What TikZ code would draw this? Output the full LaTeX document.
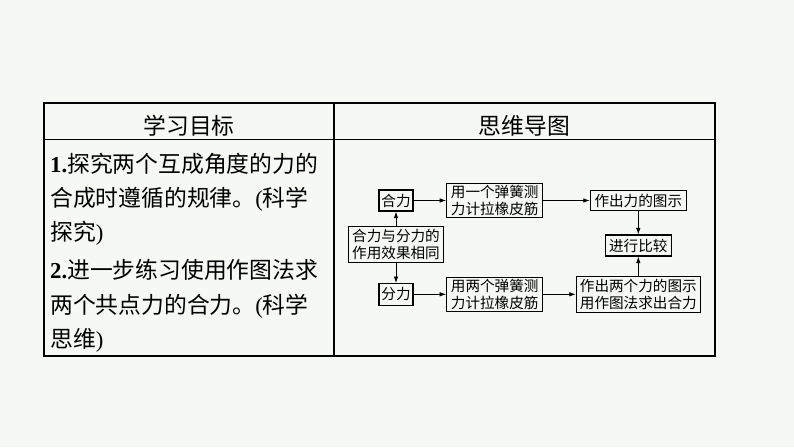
\documentclass[tikz,border=0pt]{standalone}
\usepackage{fontspec}
\setmainfont{Liberation Serif}
\newfontfamily\cjk{Noto Sans CJK SC}
\usetikzlibrary{arrows.meta}
\definecolor{bgc}{RGB}{245,248,243}
\begin{document}
\begin{tikzpicture}[x=1pt,y=-1pt,
  box/.style={draw=black, line width=1.1pt, inner sep=0pt, align=center,
    font=\cjk\fontsize{14.6}{16.8}\selectfont},
  conn/.style={line width=0.8pt, -{Latex[length=6.5pt,width=4.5pt]}},
  cell/.style={anchor=west, inner sep=0pt, font=\fontsize{22.8}{34}\selectfont},
  head/.style={inner sep=0pt, font=\cjk\fontsize{22.8}{34}\selectfont},
  rule/.style={line width=1.2pt}]
\fill[bgc] (0,0) rectangle (794,447);
\useasboundingbox (0,0) rectangle (794,447);
% table
\draw[rule] (44,103) rectangle (715,356);
\draw[line width=1pt] (44,139) -- (715,139);
\draw[rule] (334,103) -- (334,356);
% headers
\node[head] (h1) at (189,126) {学习目标};
\node[head] (h2) at (524.5,126) {思维导图};
% left text
\node[cell] (l1) at (50,163.5) {{\bfseries 1.}{\cjk 探究两个互成角度的力的}};
\node[cell] (l2) at (50,199) {{\cjk 合成时遵循的规律。}({\cjk 科学}};
\node[cell] (l3) at (50,233.5) {{\cjk 探究})};
\node[cell] (l4) at (50,270) {{\bfseries 2.}{\cjk 进一步练习使用作图法求}};
\node[cell] (l5) at (50,306) {{\cjk 两个共点力的合力。}({\cjk 科学}};
\node[cell] (l6) at (50,340.5) {{\cjk 思维})};
% mind map
\node[box, minimum width=34pt, minimum height=21pt] (hl) at (396,200.5) {合力};
\node[box, minimum width=34pt, minimum height=21.5pt] (fl) at (396,294.3) {分力};
\node[box, minimum width=95pt, minimum height=36pt] (same) at (396,244.5) {合力与分力的\\作用效果相同};
\node[box, minimum width=96pt, minimum height=34pt] (one) at (494.7,200.5) {用一个弹簧测\\力计拉橡皮筋};
\node[box, minimum width=96pt, minimum height=34.5pt] (two) at (494.7,294.3) {用两个弹簧测\\力计拉橡皮筋};
\node[box, minimum width=96pt, minimum height=20.5pt] (drawone) at (638.3,200.5) {作出力的图示};
\node[box, minimum width=66pt, minimum height=21pt] (cmp) at (638.3,245.5) {进行比较};
\node[box, minimum width=124pt, minimum height=36.5pt] (drawtwo) at (638.3,294.3) {作出两个力的图示\\用作图法求出合力};
% connectors
\draw[conn] (same) -- (hl);
\draw[conn] (same) -- (fl);
\draw[conn] (hl) -- (one);
\draw[conn] (one) -- (drawone);
\draw[conn] (fl) -- (two);
\draw[conn] (two) -- (drawtwo);
\draw[conn] (drawone) -- (cmp);
\draw[conn] (drawtwo) -- (cmp);
\end{tikzpicture}
\end{document}
